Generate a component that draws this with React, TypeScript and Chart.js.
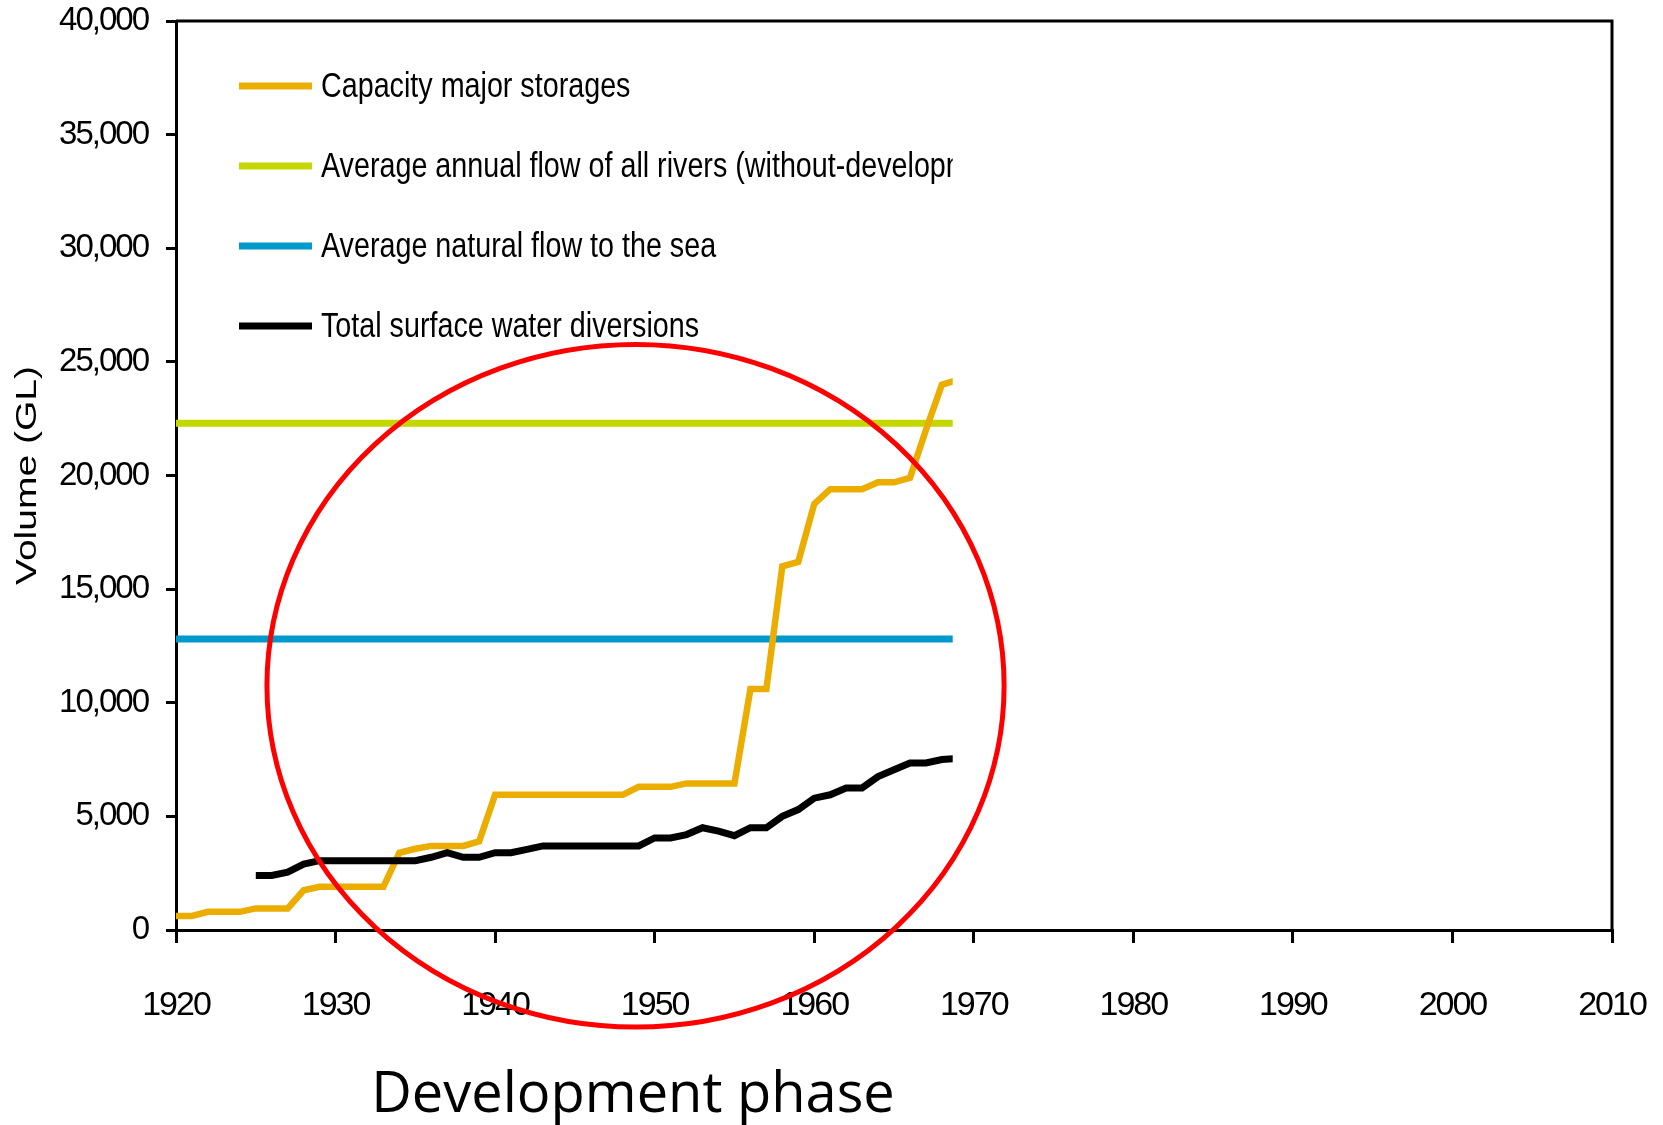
import React, { useEffect, useRef } from "react";
import { Chart, registerables } from "chart.js";

Chart.register(...registerables);

// ---------- data ----------
const CAPACITY_YEARS = [
  1920, 1921, 1922, 1923, 1924, 1925, 1926, 1927, 1928, 1929,
  1930, 1931, 1932, 1933, 1934, 1935, 1936, 1937, 1938, 1939,
  1940, 1941, 1942, 1943, 1944, 1945, 1946, 1947, 1948, 1949,
  1950, 1951, 1952, 1953, 1954, 1955, 1956, 1957, 1958, 1959,
  1960, 1961, 1962, 1963, 1964, 1965, 1966, 1967, 1968, 1969,
];
const CAPACITY_GL = [
  620, 620, 800, 800, 800, 950, 950, 950, 1750, 1900,
  1900, 1900, 1900, 1900, 3400, 3575, 3700, 3700, 3700, 3900,
  5950, 5950, 5950, 5950, 5950, 5950, 5950, 5950, 5950, 6300,
  6300, 6300, 6450, 6450, 6450, 6450, 10600, 10600, 16000, 16200,
  18750, 19400, 19400, 19400, 19700, 19700, 19900, 22000, 24000, 24200,
];

const DIVERSION_YEARS = [
  1925, 1926, 1927, 1928, 1929,
  1930, 1931, 1932, 1933, 1934, 1935, 1936, 1937, 1938, 1939,
  1940, 1941, 1942, 1943, 1944, 1945, 1946, 1947, 1948, 1949,
  1950, 1951, 1952, 1953, 1954, 1955, 1956, 1957, 1958, 1959,
  1960, 1961, 1962, 1963, 1964, 1965, 1966, 1967, 1968, 1969,
];
const DIVERSION_GL = [
  2400, 2400, 2550, 2900, 3050,
  3050, 3050, 3050, 3050, 3050, 3050, 3200, 3400, 3200, 3200,
  3400, 3400, 3550, 3700, 3700, 3700, 3700, 3700, 3700, 3700,
  4050, 4050, 4200, 4500, 4350, 4150, 4500, 4500, 5000, 5300,
  5800, 5950, 6250, 6250, 6750, 7050, 7350, 7350, 7500, 7550,
];

const FLAT_YEARS = [1920, 2010];
const AVG_ANNUAL_FLOW_GL = [22300, 22300];
const NATURAL_SEA_FLOW_GL = [12800, 12800];

const X_TICKS = [1920, 1930, 1940, 1950, 1960, 1970, 1980, 1990, 2000, 2010];
const Y_TICKS = [0, 5000, 10000, 15000, 20000, 25000, 30000, 35000, 40000];

const SERIES_LABELS = [
  "Capacity major storages",
  "Average annual flow of all rivers (without-development)",
  "Average natural flow to the sea",
  "Total surface water diversions",
];
const SERIES_COLORS = ["#EBAD00", "#C2D800", "#0099CC", "#000000"];

const X_TITLE = "Development phase";
const Y_TITLE = "Volume (GL)";

// the slide reveals data only up to this year
const REVEAL_YEAR = 1968.68;

// red highlight ellipse (in data units)
const ELLIPSE_CENTER_YEAR = 1948.8;
const ELLIPSE_CENTER_GL = 10750;
const ELLIPSE_RADIUS_YEARS = 23.1;
const ELLIPSE_RADIUS_GL = 15020;

const ARIAL = "'Liberation Sans', Arial, sans-serif";

const pts = (xs: number[], ys: number[]) => xs.map((x, i) => ({ x, y: ys[i] }));

// condensed look for the axis tick labels (scales are drawn before datasets)
const condensePlugin = {
  id: "condenseTicks",
  beforeDraw(chart: any) {
    chart.ctx.letterSpacing = "-2px";
  },
  beforeDatasetsDraw(chart: any) {
    chart.ctx.letterSpacing = "0px";
  },
};

const revealPlugin = {
  id: "revealClip",
  beforeDatasetsDraw(chart: any) {
    const { ctx, chartArea } = chart;
    const clipX = chart.scales.x.getPixelForValue(REVEAL_YEAR);
    ctx.save();
    ctx.beginPath();
    ctx.rect(chartArea.left - 4, chartArea.top - 10, clipX - chartArea.left + 4, chartArea.bottom - chartArea.top + 20);
    ctx.clip();
  },
  afterDatasetsDraw(chart: any) {
    chart.ctx.restore();
  },
};

const legendPlugin = {
  id: "insideLegend",
  afterDatasetsDraw(chart: any) {
    const { ctx, chartArea } = chart;
    const clipX = chart.scales.x.getPixelForValue(REVEAL_YEAR);
    ctx.save();
    ctx.beginPath();
    ctx.rect(chartArea.left, chartArea.top, clipX - chartArea.left, chartArea.bottom - chartArea.top);
    ctx.clip();
    SERIES_LABELS.forEach((label, i) => {
      const y = chartArea.top + 65 + i * 80;
      ctx.beginPath();
      ctx.strokeStyle = SERIES_COLORS[i];
      ctx.lineWidth = 7;
      ctx.lineCap = "butt";
      ctx.moveTo(chartArea.left + 63, y);
      ctx.lineTo(chartArea.left + 136, y);
      ctx.stroke();
      ctx.save();
      ctx.translate(chartArea.left + 145, y + 1);
      ctx.scale(0.82, 1);
      ctx.fillStyle = "#000";
      ctx.font = `35px ${ARIAL}`;
      ctx.textBaseline = "middle";
      ctx.textAlign = "left";
      ctx.fillText(label, 0, 0);
      ctx.restore();
    });
    ctx.restore();
  },
};

const framePlugin = {
  id: "frame",
  afterDraw(chart: any) {
    const { ctx, chartArea } = chart;
    ctx.save();
    ctx.strokeStyle = "#000";
    ctx.lineWidth = 3;
    ctx.beginPath();
    ctx.moveTo(chartArea.left, chartArea.top);
    ctx.lineTo(chartArea.right, chartArea.top);
    ctx.lineTo(chartArea.right, chartArea.bottom);
    ctx.stroke();
    ctx.restore();
  },
};

const titlesPlugin = {
  id: "axisTitles",
  afterDraw(chart: any) {
    const { ctx, chartArea } = chart;
    ctx.save();
    ctx.fillStyle = "#000";
    ctx.font = "56px 'Open Sans', 'Noto Sans', sans-serif";
    ctx.textAlign = "center";
    ctx.textBaseline = "middle";
    ctx.fillText(X_TITLE, chartArea.left + 457, chartArea.bottom + 166);
    ctx.restore();

    ctx.save();
    ctx.translate(28, (chartArea.top + chartArea.bottom) / 2);
    ctx.rotate(-Math.PI / 2);
    ctx.scale(1.3, 1);
    ctx.fillStyle = "#000";
    ctx.font = `30px ${ARIAL}`;
    ctx.textAlign = "center";
    ctx.textBaseline = "middle";
    ctx.fillText(Y_TITLE, 0, 0);
    ctx.restore();
  },
};

const ellipsePlugin = {
  id: "highlightEllipse",
  afterDraw(chart: any) {
    const { ctx } = chart;
    const xs = chart.scales.x;
    const ys = chart.scales.y;
    const cx = xs.getPixelForValue(ELLIPSE_CENTER_YEAR);
    const cy = ys.getPixelForValue(ELLIPSE_CENTER_GL);
    const rx = xs.getPixelForValue(ELLIPSE_CENTER_YEAR + ELLIPSE_RADIUS_YEARS) - cx;
    const ry = cy - ys.getPixelForValue(ELLIPSE_CENTER_GL + ELLIPSE_RADIUS_GL);
    ctx.save();
    ctx.strokeStyle = "#FF0000";
    ctx.lineWidth = 5;
    ctx.beginPath();
    ctx.ellipse(cx, cy, rx, ry, 0, 0, Math.PI * 2);
    ctx.stroke();
    ctx.restore();
  },
};

export default function App() {
  const canvasRef = useRef<HTMLCanvasElement | null>(null);

  useEffect(() => {
    document.body.style.margin = "0";
    const canvas = canvasRef.current;
    if (!canvas) return;

    const chart = new Chart(canvas, {
      type: "line",
      data: {
        datasets: [
          {
            label: SERIES_LABELS[3],
            data: pts(DIVERSION_YEARS, DIVERSION_GL),
            borderColor: SERIES_COLORS[3],
            borderWidth: 7,
            pointRadius: 0,
            tension: 0,
            order: 0,
          },
          {
            label: SERIES_LABELS[0],
            data: pts(CAPACITY_YEARS, CAPACITY_GL),
            borderColor: SERIES_COLORS[0],
            borderWidth: 6.5,
            pointRadius: 0,
            tension: 0,
            order: 1,
          },
          {
            label: SERIES_LABELS[2],
            data: pts(FLAT_YEARS, NATURAL_SEA_FLOW_GL),
            borderColor: SERIES_COLORS[2],
            borderWidth: 7,
            pointRadius: 0,
            tension: 0,
            order: 2,
          },
          {
            label: SERIES_LABELS[1],
            data: pts(FLAT_YEARS, AVG_ANNUAL_FLOW_GL),
            borderColor: SERIES_COLORS[1],
            borderWidth: 7,
            pointRadius: 0,
            tension: 0,
            order: 3,
          },
        ],
      },
      options: {
        animation: false,
        responsive: false,
        devicePixelRatio: 1,
        layout: { padding: { top: 21, right: 51, left: 0, bottom: 0 } },
        plugins: {
          legend: { display: false },
          tooltip: { enabled: false },
        },
        scales: {
          x: {
            type: "linear",
            min: 1920,
            max: 2010,
            afterBuildTicks: (scale: any) => {
              scale.ticks = X_TICKS.map((v) => ({ value: v }));
            },
            afterFit: (scale: any) => {
              scale.height = 195;
              scale.paddingLeft = 0;
              scale.paddingRight = 0;
            },
            grid: {
              drawOnChartArea: false,
              drawTicks: true,
              tickLength: 13,
              color: "#000",
              lineWidth: 3,
            },
            border: { display: true, color: "#000", width: 3 },
            ticks: {
              color: "#000",
              padding: 42,
              maxRotation: 0,
              font: { family: ARIAL, size: 34, lineHeight: 1.2 },
              callback: (v: any) => String(v),
            },
            title: { display: false, text: X_TITLE },
          },
          y: {
            type: "linear",
            min: 0,
            max: 40000,
            afterBuildTicks: (scale: any) => {
              scale.ticks = Y_TICKS.map((v) => ({ value: v }));
            },
            afterFit: (scale: any) => {
              scale.width = 176;
              scale.paddingTop = 0;
              scale.paddingBottom = 0;
            },
            grid: {
              drawOnChartArea: false,
              drawTicks: true,
              tickLength: 10,
              color: "#000",
              lineWidth: 3,
            },
            border: { display: true, color: "#000", width: 3 },
            ticks: {
              color: "#000",
              padding: 18,
              font: { family: ARIAL, size: 33, lineHeight: 1.0 },
              callback: (v: any) => Number(v).toLocaleString("en-US"),
            },
            title: { display: false, text: Y_TITLE },
          },
        },
      },
      plugins: [condensePlugin, revealPlugin, legendPlugin, framePlugin, titlesPlugin, ellipsePlugin],
    } as any);

    return () => chart.destroy();
  }, []);

  return (
    <div style={{ width: 1663, height: 1125, background: "#fff" }}>
      <canvas ref={canvasRef} width={1663} height={1125} style={{ display: "block" }} />
    </div>
  );
}
